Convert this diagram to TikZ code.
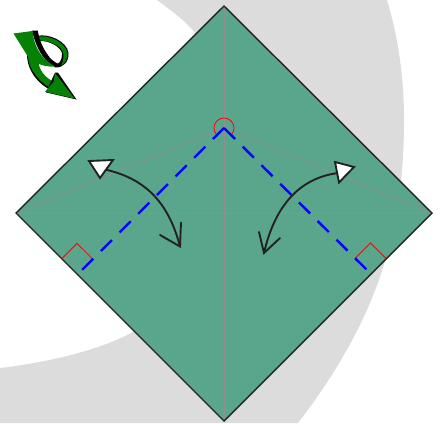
\documentclass[tikz,border=0pt]{standalone}
\definecolor{paper}{HTML}{5AA68C}
\definecolor{band}{HTML}{DCDCDC}
\definecolor{crease}{HTML}{8F8F8F}
\definecolor{ink}{HTML}{222222}
\definecolor{icon}{HTML}{058205}
\tikzset{
  creaseline/.style={crease,line width=0.7pt},
  foldline/.style={blue,line width=2.4pt,dash pattern=on 15.7pt off 10.7pt},
  anglemark/.style={red,line width=0.8pt},
  swing/.style={ink,line width=1.9pt,line cap=round,line join=miter},
  headbox/.style={draw=ink,fill=white,line width=1.9pt,line join=miter},
  iconshade/.style={fill=black,draw=none}
}
\begin{document}
\begin{tikzpicture}[x=1pt,y=-1pt]
\useasboundingbox (0,0) rectangle (441,423);
\fill[band] (157,0) -- (387,0) .. controls (399,40) and (404,80) .. (404,120)
  .. controls (404,175) and (398,215) .. (386,258)
  .. controls (368,320) and (335,375) .. (298,423)
  -- (0,423) -- (0,368) .. controls (50,362) and (100,350) .. (133,332)
  -- (195,33) .. controls (185,20) and (170,10) .. (157,0) -- cycle;
\coordinate (T) at (224,6);
\coordinate (R) at (432,213);
\coordinate (B) at (224,421);
\coordinate (L) at (16,213);
\coordinate (A) at (224,128);
\fill[paper] (T) -- (R) -- (B) -- (L) -- cycle;
\draw[creaseline] (T) -- (B);
\draw[creaseline] (L) -- (R);
\draw[creaseline] (A) -- (L);
\draw[creaseline] (A) -- (R);
\draw[ink,line width=1.4pt,line join=miter] (T) -- (R) -- (B) -- (L) -- cycle;
% angle marks
\draw[anglemark] (231.07,135.07) .. controls (235,131.2) and (235,124.8) .. (231.07,120.93)
  .. controls (227.2,117) and (220.8,117) .. (216.93,120.93)
  .. controls (213,124.8) and (213,131.2) .. (216.93,135.07);
\draw[anglemark] (61.5,259) -- (77,243.5) -- (92.7,259);
\draw[anglemark] (355,258.5) -- (370.5,243) -- (386,258.5);
% fold lines
\coordinate (FL) at (82,270);
\coordinate (FR) at (367,270);
\draw[foldline] (A) -- (FL);
\draw[foldline] (A) -- (FR);
% swing arrows
\coordinate (HL) at (180,246.5);
\coordinate (HR) at (264,253);
\draw[swing] (105,169.5) .. controls (143,178) and (168,200) .. (HL);
\draw[swing] (181,222.5) -- (HL) -- (160,235);
\draw[headbox] (89,161) -- (113,160) -- (100,178) -- cycle;
\draw[swing] (338,173) .. controls (300,178) and (275,205) .. (HR);
\draw[swing] (259,232) -- (HR) -- (280,238);
\draw[headbox] (335,162) -- (354,167) -- (339,182.5) -- cycle;
% icon: ring
\fill[iconshade] (37,36) .. controls (48,33) and (67,41) .. (68.5,53)
  .. controls (69,62) and (63,68) .. (55,67.5) -- (54,64.5)
  .. controls (59,65.5) and (62.5,60) .. (62,53) .. controls (60,46) and (48,40.5) .. (40,41) -- cycle;
\fill[icon] (38,36.6) .. controls (48,34.5) and (65.5,42) .. (67.5,53)
  .. controls (67.8,59) and (65,63) .. (61.5,65.5) .. controls (63.5,60) and (64,56) .. (63,52)
  .. controls (60,45) and (48,40) .. (39,40.6) -- cycle;
% icon: lower band
\fill[iconshade] (27,54) .. controls (27,72) and (40,85) .. (50,89.5) -- (54,84)
  .. controls (45,79) and (39,72) .. (38,60) -- cycle;
\fill[icon] (28,57) .. controls (29,71) and (41,82.5) .. (50,88) -- (54,82)
  .. controls (46,78) and (39,71) .. (38,61) -- cycle;
% icon: main wedge
\fill[iconshade] (32,30.5) -- (37.8,30.7) .. controls (39,38) and (41,46) .. (50,58)
  .. controls (54,62) and (58,64) .. (62,65.5) -- (55,67) .. controls (44,62) and (36,48) .. (32,30.5) -- cycle;
\fill[icon] (13.5,33.5) -- (32.5,31) .. controls (33.5,40) and (36,49) .. (43.3,57.5)
  .. controls (46,60.5) and (50,63.5) .. (55,66.5) .. controls (48,67) and (42,65.5) .. (38,63.5)
  .. controls (35,62) and (31,59.5) .. (28,56.7) -- cycle;
% icon: head
\fill[iconshade] (55,72.7) -- (58,72.7) -- (76.5,99.5) -- (46,92.4) -- cycle;
\fill[icon] (55,73) -- (74.5,98.5) -- (45,91.7) -- (53.5,82) -- cycle;
\end{tikzpicture}
\end{document}
